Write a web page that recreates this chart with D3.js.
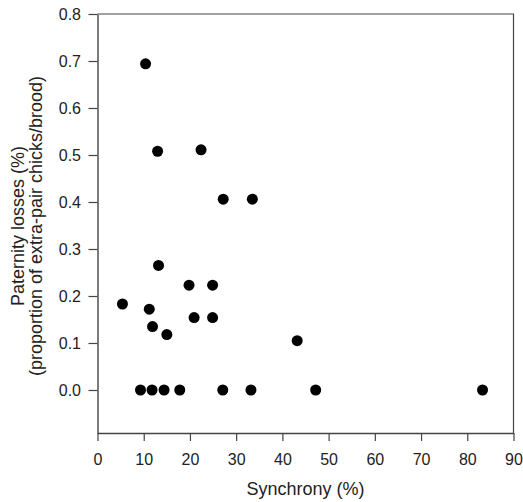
<!DOCTYPE html>
<html>
<head>
  <meta charset="utf-8" />
  <script src="https://d3js.org/d3.v7.min.js"></script>
  <style>
    body, html {
      margin: 0;
      background: white;
    }
    svg text {
      font-family: "Liberation Sans", Arial, sans-serif;
      fill: #222;
    }
  </style>
</head>
<body>
  <svg id="chart" width="523" height="502"></svg>
  <script>
    // synchrony (%) vs paternity losses
    var synchrony = [10.4, 13.0, 22.4, 27.2, 33.5, 13.2, 19.8, 24.9, 5.4, 11.2, 11.9, 20.9, 24.9, 15.0, 43.2,
                     9.3, 11.8, 14.4, 17.8, 27.1, 33.2, 47.2, 83.3];
    var losses = [0.694, 0.508, 0.511, 0.406, 0.406, 0.265, 0.223, 0.223, 0.183, 0.172, 0.135, 0.154, 0.154, 0.118, 0.105,
                  0, 0, 0, 0, 0, 0, 0, 0];
    var xTicks = [0, 10, 20, 30, 40, 50, 60, 70, 80, 90];
    var yTicks = [0, 0.1, 0.2, 0.3, 0.4, 0.5, 0.6, 0.7, 0.8];

    var svg = d3.select("#chart");
    var mLeft = 97.5, mRight = 513.5, mTop = 14, mBottom = 433;

    var x = d3.scaleLinear().domain([0, 90]).range([mLeft, mRight]);
    var y = d3.scaleLinear().domain([-0.0915, 0.8]).range([mBottom, mTop]);

    // frame top + right
    svg.append("path")
      .attr("d", "M" + mLeft + "," + mTop + "H" + mRight + "V" + mBottom)
      .attr("fill", "none")
      .attr("stroke", "#444")
      .attr("stroke-width", 1.2);

    var xAxis = svg.append("g")
      .attr("transform", "translate(0," + mBottom + ")")
      .call(d3.axisBottom(x).tickValues(xTicks).tickSize(8).tickPadding(12.6).tickSizeOuter(0));

    var yAxis = svg.append("g")
      .attr("transform", "translate(" + mLeft + ",0)")
      .call(d3.axisLeft(y).tickValues(yTicks).tickFormat(d3.format(".1f")).tickSize(9).tickPadding(7.5).tickSizeOuter(0));

    [xAxis, yAxis].forEach(function(g) {
      g.select(".domain").attr("stroke", "#444").attr("stroke-width", 1.4);
      g.selectAll(".tick line").attr("stroke", "#444").attr("stroke-width", 1.2);
      g.selectAll(".tick text").attr("font-size", 16).attr("font-family", null).style("fill", "#222");
    });

    svg.selectAll("circle.dot")
      .data(synchrony)
      .enter()
      .append("circle")
      .attr("class", "dot")
      .attr("cx", function(d) { return x(d); })
      .attr("cy", function(d, i) { return y(losses[i]); })
      .attr("r", 5.5)
      .attr("fill", "#000");

    svg.append("text")
      .attr("x", (mLeft + mRight) / 2)
      .attr("y", 495)
      .attr("text-anchor", "middle")
      .attr("font-size", 18)
      .text("Synchrony (%)");

    svg.append("text")
      .attr("transform", "translate(24,226) rotate(-90)")
      .attr("text-anchor", "middle")
      .attr("font-size", 18)
      .text("Paternity losses (%)");

    svg.append("text")
      .attr("transform", "translate(42,226) rotate(-90)")
      .attr("text-anchor", "middle")
      .attr("font-size", 18)
      .text("(proportion of extra-pair chicks/brood)");
  </script>
</body>
</html>
